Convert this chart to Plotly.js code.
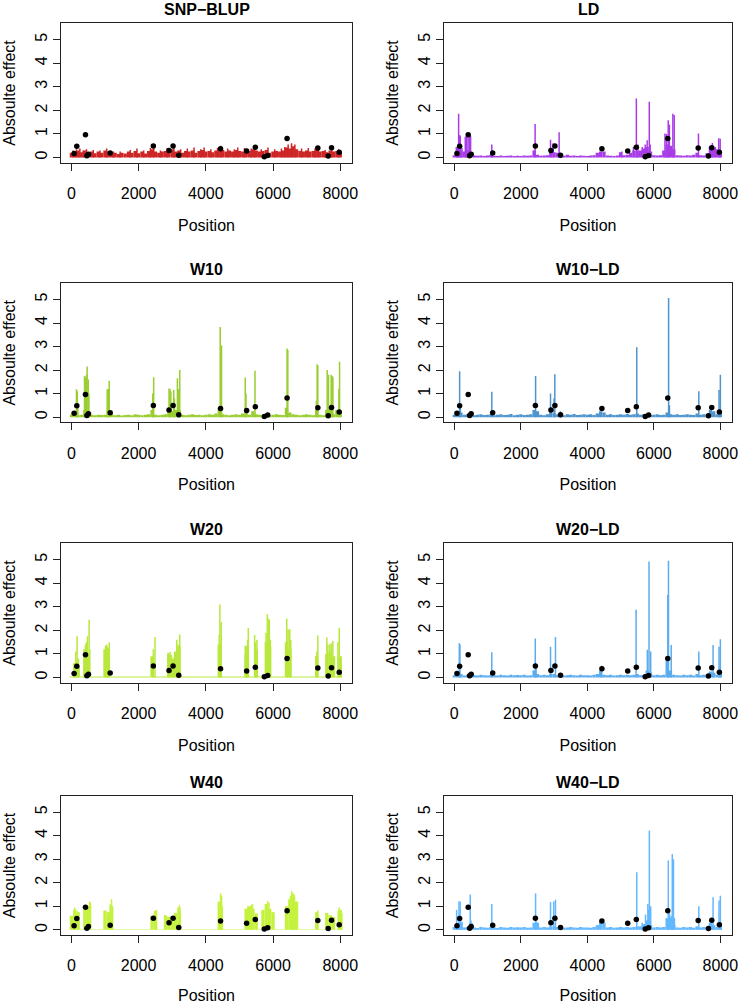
<!DOCTYPE html>
<html>
<head>
<meta charset="utf-8">
<script src="https://cdn.plot.ly/plotly-3.0.1.min.js"></script>
<style>html,body{margin:0;padding:0;background:#fff;}#chart{width:742px;height:1004px;}</style>
</head>
<body>
<div id="chart"></div>
<script>
// ---------- data ----------
const panelTitles = ['SNP−BLUP', 'LD', 'W10', 'W10−LD', 'W20', 'W20−LD', 'W40', 'W40−LD'];
const xTicks = [0, 2000, 4000, 6000, 8000];
const yTicks = [0, 1, 2, 3, 4, 5];

// true QTL positions and absolute effects (black dots)
const qtlPos = [80, 160, 418, 460, 507, 1154, 2438, 2905, 3025, 3194, 4438, 5214, 5473, 5741, 5841, 6418, 7333, 7642, 7741, 7970];
const qtlEff = [0.17, 0.48, 0.96, 0.07, 0.14, 0.19, 0.49, 0.30, 0.49, 0.10, 0.37, 0.28, 0.44, 0.03, 0.09, 0.81, 0.40, 0.06, 0.41, 0.22];

// background estimated effects, one value per 100 positions
const basePos = [0,100,200,300,400,500,600,700,800,900,
  1000,1100,1200,1300,1400,1500,1600,1700,1800,1900,
  2000,2100,2200,2300,2400,2500,2600,2700,2800,2900,
  3000,3100,3200,3300,3400,3500,3600,3700,3800,3900,
  4000,4100,4200,4300,4400,4500,4600,4700,4800,4900,
  5000,5100,5200,5300,5400,5500,5600,5700,5800,5900,
  6000,6100,6200,6300,6400,6500,6600,6700,6800,6900,
  7000,7100,7200,7300,7400,7500,7600,7700,7800,7900,
  8000];

const snpBase = [0.2,0.25,0.3,0.22,0.3,0.2,0.25,0.18,0.25,0.2,
  0.3,0.25,0.17,0.2,0.15,0.2,0.17,0.25,0.2,0.28,
  0.18,0.25,0.17,0.28,0.35,0.25,0.2,0.25,0.28,0.3,
  0.35,0.25,0.3,0.2,0.28,0.25,0.3,0.2,0.28,0.32,
  0.25,0.28,0.22,0.3,0.38,0.32,0.25,0.3,0.25,0.32,
  0.28,0.25,0.32,0.28,0.35,0.3,0.25,0.28,0.32,0.2,
  0.25,0.28,0.25,0.3,0.42,0.38,0.48,0.35,0.28,0.25,
  0.3,0.25,0.28,0.32,0.25,0.28,0.22,0.3,0.25,0.28,
  0.22];
const ldBase = [0.1,0.35,0.3,0.25,0.3,0.2,0.08,0.07,0.08,0.06,
  0.08,0.12,0.07,0.06,0.08,0.06,0.07,0.08,0.06,0.07,
  0.06,0.08,0.07,0.08,0.3,0.12,0.07,0.08,0.1,0.28,
  0.22,0.2,0.15,0.07,0.12,0.07,0.08,0.06,0.08,0.07,
  0.06,0.08,0.1,0.2,0.25,0.25,0.08,0.07,0.06,0.08,
  0.22,0.1,0.12,0.2,0.3,0.28,0.3,0.38,0.45,0.25,
  0.1,0.08,0.1,0.3,0.55,0.5,0.35,0.1,0.08,0.07,
  0.1,0.08,0.12,0.2,0.1,0.08,0.18,0.45,0.4,0.35,
  0.2];
const w10Base = [0.1,0.12,0.08,0.1,0.3,0.25,0.1,0.08,0.1,0.09,
  0.1,0.3,0.12,0.08,0.1,0.07,0.09,0.1,0.08,0.12,
  0.1,0.08,0.1,0.12,0.3,0.1,0.08,0.1,0.12,0.3,
  0.25,0.3,0.3,0.1,0.08,0.1,0.12,0.09,0.1,0.08,
  0.1,0.12,0.1,0.15,0.4,0.12,0.1,0.08,0.1,0.12,
  0.1,0.15,0.3,0.1,0.25,0.12,0.1,0.09,0.1,0.08,
  0.1,0.12,0.1,0.09,0.4,0.2,0.12,0.1,0.08,0.1,
  0.12,0.1,0.08,0.3,0.1,0.08,0.3,0.35,0.12,0.3,
  0.2];
const w10ldBase = [0.1,0.25,0.2,0.1,0.12,0.15,0.08,0.1,0.12,0.09,
  0.1,0.12,0.08,0.1,0.12,0.09,0.1,0.13,0.08,0.1,
  0.12,0.09,0.1,0.12,0.3,0.25,0.1,0.08,0.12,0.2,
  0.15,0.12,0.1,0.08,0.12,0.1,0.13,0.09,0.1,0.12,
  0.1,0.12,0.09,0.15,0.25,0.2,0.1,0.12,0.09,0.1,
  0.12,0.1,0.13,0.1,0.12,0.15,0.1,0.12,0.1,0.09,
  0.1,0.12,0.09,0.1,0.2,0.12,0.1,0.12,0.09,0.1,
  0.12,0.1,0.09,0.15,0.1,0.12,0.1,0.3,0.25,0.12,
  0.15];
const w20Base = [0.04,0.6,0.5,0.04,1.2,1.0,0.04,0.04,0.04,0.04,
  1.2,1.2,0.04,0.04,0.04,0.04,0.04,0.04,0.04,0.04,
  0.04,0.04,0.04,0.04,0.9,0.04,0.04,0.04,0.04,0.95,
  0.75,1.1,1.3,0.04,0.04,0.04,0.04,0.04,0.04,0.04,
  0.04,0.04,0.04,0.04,1.4,0.04,0.04,0.04,0.04,0.04,
  0.04,0.04,1.0,0.04,0.04,1.2,0.04,0.04,1.5,1.3,
  0.04,0.04,0.04,0.04,1.5,1.2,0.04,0.04,0.04,0.04,
  0.04,0.04,0.04,0.9,0.04,0.04,1.0,1.1,0.9,0.04,
  0.9];
const w20ldBase = [0.1,0.2,0.15,0.08,0.12,0.15,0.1,0.08,0.12,0.1,
  0.09,0.12,0.1,0.08,0.12,0.1,0.09,0.12,0.1,0.11,
  0.1,0.12,0.09,0.1,0.3,0.15,0.1,0.12,0.1,0.15,
  0.15,0.1,0.12,0.09,0.1,0.12,0.1,0.09,0.12,0.1,
  0.1,0.09,0.12,0.15,0.3,0.12,0.1,0.12,0.09,0.1,
  0.12,0.1,0.12,0.1,0.12,0.15,0.1,0.12,0.3,0.2,
  0.1,0.12,0.1,0.12,0.7,0.3,0.12,0.1,0.09,0.12,
  0.1,0.12,0.09,0.15,0.1,0.12,0.1,0.25,0.2,0.12,
  0.2];
const w40Base = [0.6,0.85,0.75,0.02,0.85,1.0,0.02,0.02,0.02,0.02,
  0.82,0.75,1.0,0.02,0.02,0.02,0.02,0.02,0.02,0.02,
  0.02,0.02,0.02,0.02,0.6,0.8,0.02,0.02,0.62,0.55,
  0.5,0.72,0.95,0.02,0.02,0.02,0.02,0.02,0.02,0.02,
  0.02,0.02,0.02,0.02,1.2,0.02,0.02,0.02,0.02,0.02,
  0.02,0.02,0.9,1.0,0.9,0.7,0.02,0.85,1.1,0.9,
  0.75,0.02,0.02,0.02,1.0,1.3,1.5,1.2,0.02,0.02,
  0.02,0.02,0.02,0.75,0.02,0.02,0.72,0.62,0.55,0.02,
  0.85];
const w40ldBase = [0.12,0.3,0.3,0.1,0.12,0.3,0.1,0.08,0.12,0.1,
  0.09,0.12,0.1,0.08,0.12,0.1,0.09,0.12,0.1,0.11,
  0.1,0.12,0.09,0.1,0.3,0.3,0.1,0.12,0.1,0.15,
  0.15,0.12,0.12,0.09,0.1,0.12,0.1,0.09,0.12,0.1,
  0.1,0.09,0.12,0.2,0.35,0.3,0.1,0.12,0.09,0.1,
  0.12,0.1,0.12,0.1,0.12,0.15,0.15,0.25,0.4,0.2,
  0.1,0.12,0.1,0.12,0.5,0.5,0.2,0.1,0.09,0.12,
  0.1,0.12,0.09,0.15,0.1,0.12,0.1,0.3,0.2,0.12,
  0.2];

// individual large estimated effects (spikes)
const snpPeakPos = [50, 150, 250, 350, 450, 650, 850, 1050, 1250, 1450, 1750, 1950, 2150, 2350, 2450, 2650, 2850, 3050, 3250, 3450, 3650, 3850, 3950, 4150, 4350, 4450, 4650, 4850, 4950, 5150, 5350, 5450, 5650, 5850, 6050, 6250, 6350, 6450, 6550, 6650, 6850, 7050, 7250, 7350, 7550, 7750, 7950];
const snpPeakVal = [0.3, 0.35, 0.38, 0.3, 0.35, 0.32, 0.3, 0.38, 0.25, 0.25, 0.32, 0.38, 0.3, 0.4, 0.45, 0.3, 0.4, 0.48, 0.35, 0.38, 0.42, 0.35, 0.42, 0.35, 0.4, 0.5, 0.38, 0.35, 0.42, 0.4, 0.38, 0.45, 0.35, 0.42, 0.35, 0.38, 0.45, 0.55, 0.6, 0.55, 0.38, 0.4, 0.38, 0.42, 0.32, 0.4, 0.35];

const ldPeakPos = [60, 100, 130, 160, 180, 230, 330, 360, 410, 450, 490, 1127, 2430, 2893, 2973, 3152, 5037, 5387, 5474, 5520, 5650, 5740, 5800, 5863, 5890, 6334, 6380, 6432, 6467, 6572, 6612, 7342, 7700, 7760, 7850, 7950, 7995];
const ldPeakVal = [0.45, 0.4, 1.86, 0.95, 0.9, 0.4, 0.88, 0.9, 0.95, 0.93, 0.92, 0.55, 1.42, 0.75, 0.6, 1.07, 0.25, 0.45, 2.5, 0.55, 0.45, 0.55, 0.73, 2.36, 0.55, 1.02, 1.0, 1.58, 1.4, 1.86, 1.8, 1.02, 0.5, 0.62, 0.45, 0.82, 0.8];

const w10PeakPos = [150, 175, 190, 390, 420, 450, 468, 500, 520, 1065, 1095, 1125, 2420, 2448, 2905, 2935, 2960, 3045, 3065, 3154, 3190, 3224, 4428, 4468, 5174, 5194, 5463, 6418, 6440, 7290, 7313, 7333, 7612, 7650, 7731, 7760, 7781, 7960, 7980];
const w10PeakVal = [1.18, 1.1, 0.6, 1.75, 1.7, 1.8, 2.15, 1.6, 1.0, 1.18, 1.2, 1.55, 1.0, 1.7, 1.22, 1.2, 1.1, 1.15, 0.8, 1.65, 1.2, 2.0, 3.83, 3.05, 1.68, 1.0, 1.97, 2.92, 2.85, 0.7, 2.25, 2.2, 2.0, 1.8, 1.8, 1.75, 1.7, 1.2, 2.35];

const w10ldPeakPos = [160, 180, 1127, 2444, 2893, 3000, 3022, 3190, 5486, 6444, 6470, 7352, 7960, 8000];
const w10ldPeakVal = [1.95, 0.5, 1.08, 1.75, 1.0, 0.8, 1.82, 0.25, 2.97, 5.07, 0.5, 1.1, 1.15, 1.8];

const w20PeakPos = [90, 129, 169, 209, 388, 418, 448, 478, 507, 527, 547, 1015, 1045, 1065, 1095, 1124, 2438, 2488, 2876, 2905, 2935, 2975, 3015, 3055, 3134, 3174, 3224, 4398, 4418, 4458, 5174, 5214, 5244, 5264, 5453, 5482, 5522, 5791, 5831, 5861, 5890, 5920, 6408, 6448, 6497, 6527, 7303, 7333, 7602, 7632, 7691, 7731, 7781, 7930, 7970, 8020];
const w20PeakVal = [0.6, 1.1, 1.75, 0.8, 1.0, 1.4, 1.5, 1.75, 1.0, 2.45, 1.2, 1.35, 1.4, 1.3, 1.25, 1.5, 1.2, 1.72, 1.05, 1.0, 1.08, 0.95, 0.8, 0.85, 1.6, 1.4, 1.82, 1.8, 3.1, 2.35, 1.35, 1.35, 1.6, 2.1, 1.8, 1.5, 1.6, 1.9, 2.68, 2.5, 2.45, 1.6, 2.5, 2.05, 2.05, 1.6, 1.1, 1.78, 1.7, 1.4, 1.4, 1.45, 1.55, 1.5, 2.1, 0.5];

const w20ldPeakPos = [150, 170, 1127, 2434, 2460, 2893, 3042, 4429, 5466, 5805, 5855, 5905, 6420, 6440, 6522, 7352, 7781, 7960, 8000];
const w20ldPeakVal = [1.45, 1.4, 1.07, 1.65, 0.4, 1.3, 1.72, 0.5, 2.87, 1.18, 4.92, 1.1, 3.5, 4.95, 1.38, 1.1, 1.38, 1.3, 1.62];

const w40PeakPos = [100, 180, 430, 470, 540, 570, 1150, 1194, 2530, 3214, 3240, 4398, 4438, 4468, 4490, 5250, 5350, 5390, 5841, 5880, 6520, 6557, 6597, 6640, 7333, 7940, 7970, 8010, 8050];
const w40PeakVal = [0.95, 0.8, 0.9, 1.05, 1.2, 1.15, 1.08, 1.3, 0.85, 1.05, 0.8, 1.1, 1.55, 1.45, 1.0, 1.0, 1.05, 1.1, 1.22, 1.15, 1.45, 1.65, 1.55, 1.4, 0.82, 0.8, 0.95, 0.85, 0.7];

const w40ldPeakPos = [70, 140, 175, 230, 479, 500, 1127, 2444, 2470, 2893, 2990, 3042, 5486, 5650, 5750, 5820, 5845, 5865, 5905, 6434, 6470, 6520, 6554, 6590, 6620, 7352, 7740, 7781, 7960, 8000];
const w40ldPeakVal = [0.85, 1.22, 1.2, 0.35, 1.5, 0.4, 1.1, 1.55, 0.35, 1.18, 1.2, 1.28, 2.45, 0.3, 0.65, 1.1, 0.85, 4.22, 1.0, 2.95, 0.7, 0.6, 3.22, 3.0, 0.5, 1.0, 0.45, 1.38, 1.25, 1.45];

const panelColors = ['#CD2626', '#A83DE8', '#9ACD32', '#4F94CD', '#B8E83C', '#5CACEE', '#C4F23E', '#63B8FF'];
const panelBase = [snpBase, ldBase, w10Base, w10ldBase, w20Base, w20ldBase, w40Base, w40ldBase];
const panelPeakPos = [snpPeakPos, ldPeakPos, w10PeakPos, w10ldPeakPos, w20PeakPos, w20ldPeakPos, w40PeakPos, w40ldPeakPos];
const panelPeakVal = [snpPeakVal, ldPeakVal, w10PeakVal, w10ldPeakVal, w20PeakVal, w20ldPeakVal, w40PeakVal, w40ldPeakVal];

// ---------- layout geometry (pixels) ----------
const W = 742, H = 1004;
const colX = [[61, 352], [444, 732]];
const rowY = [[23.3, 162.7], [283.3, 422.3], [543.3, 682.7], [796, 935]];
const FONT = 'Liberation Sans, Arial, Helvetica, sans-serif';

const traces = [];
const layout = {
  width: W, height: H,
  margin: {l: 0, r: 0, t: 0, b: 0, pad: 0},
  paper_bgcolor: '#fff', plot_bgcolor: '#fff',
  showlegend: false, barmode: 'overlay', hovermode: false,
  font: {family: FONT, size: 16, color: '#000'},
  annotations: []
};

for (let i = 0; i < 8; i++) {
  const r = Math.floor(i / 2), c = i % 2;
  const sfx = i === 0 ? '' : String(i + 1);
  const xa = 'x' + sfx, ya = 'y' + sfx;
  traces.push({
    type: 'bar', x: basePos, y: panelBase[i], width: 100,
    xaxis: xa, yaxis: ya,
    marker: {color: panelColors[i], line: {width: 0}}
  });
  traces.push({
    type: 'bar', x: panelPeakPos[i], y: panelPeakVal[i], width: 45,
    xaxis: xa, yaxis: ya,
    marker: {color: panelColors[i], line: {width: 0}}
  });
  traces.push({
    type: 'scatter', mode: 'markers', x: qtlPos, y: qtlEff,
    xaxis: xa, yaxis: ya,
    marker: {color: '#000', size: 5.5}
  });
  const xd = [colX[c][0] / W, colX[c][1] / W];
  const yd = [1 - rowY[r][1] / H, 1 - rowY[r][0] / H];
  layout['xaxis' + sfx] = {
    domain: xd, anchor: ya, range: [-310, 8350],
    tickmode: 'array', tickvals: xTicks, ticktext: xTicks.map(String),
    ticks: 'outside', ticklen: 7, tickwidth: 1, tickcolor: '#222',
    ticklabelstandoff: 9,
    showline: true, mirror: true, linecolor: '#222', linewidth: 1,
    showgrid: false, zeroline: false,
    tickfont: {family: FONT, size: 16, color: '#000'},
    title: {text: 'Position', font: {family: FONT, size: 16, color: '#000'}, standoff: 18}
  };
  layout['yaxis' + sfx] = {
    domain: yd, anchor: xa, range: [-0.22, 5.69],
    tickmode: 'array', tickvals: yTicks, ticktext: yTicks.map(String),
    tickangle: -90,
    ticks: 'outside', ticklen: 7, tickwidth: 1, tickcolor: '#222',
    showline: true, mirror: true, linecolor: '#222', linewidth: 1,
    showgrid: false, zeroline: false,
    tickfont: {family: FONT, size: 16, color: '#000'},
    title: {text: 'Absoulte effect', font: {family: FONT, size: 16, color: '#000'}, standoff: 12}
  };
  layout.annotations.push({
    text: panelTitles[i], xref: 'paper', yref: 'paper',
    x: (xd[0] + xd[1]) / 2, y: 1 - (rowY[r][0] - 14) / H,
    xanchor: 'center', yanchor: 'middle', showarrow: false,
    font: {family: FONT, size: 16, color: '#000', weight: 'bold'}
  });
}

Plotly.newPlot('chart', traces, layout, {staticPlot: true, displayModeBar: false});
</script>
</body>
</html>
